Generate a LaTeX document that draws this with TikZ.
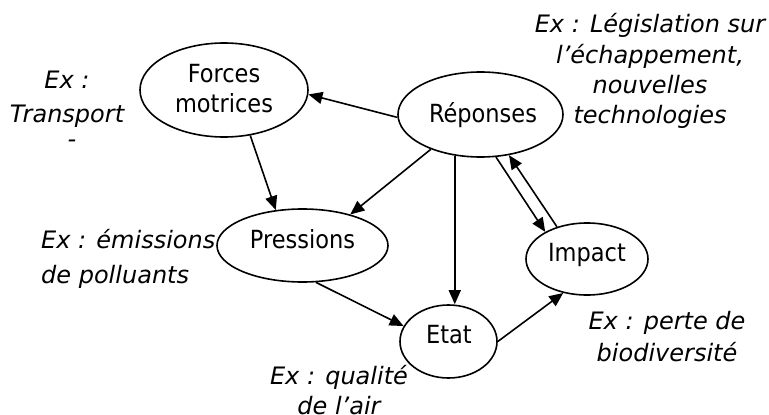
\documentclass[tikz,border=0pt]{standalone}
\usepackage{fontspec}
\newfontfamily\ellfont{DejaVu Sans Condensed}
\newfontfamily\exfont{DejaVu Sans}
\usetikzlibrary{shapes.geometric,arrows.meta}
\begin{document}
\begin{tikzpicture}[x=1pt,y=-1pt,
  ell/.style={draw, ellipse, line width=1.6pt, inner sep=0pt},
  elltext/.style={font=\ellfont\fontsize{25}{30}\selectfont, align=center, anchor=base, inner sep=0pt},
  extext/.style={font=\exfont\itshape\fontsize{24}{32}\selectfont, inner sep=0pt, anchor=base},
  arr/.style={line width=1.6pt, -{Triangle[length=14pt,width=12pt]}}]
\useasboundingbox (0,0) rectangle (769,415);
% ellipses
\node[ell, minimum width=168pt, minimum height=94pt] (F) at (224,90) {};
\node[ell, minimum width=165pt, minimum height=85pt] (R) at (480.5,114.5) {};
\node[ell, minimum width=171pt, minimum height=73pt] (P) at (302.5,245.5) {};
\node[ell, minimum width=97pt, minimum height=73pt] (E) at (448.5,341.5) {};
\node[ell, minimum width=122pt, minimum height=72pt] (I) at (587,259) {};
% ellipse texts (base = baseline of last line)
\node[elltext] (Ft) at (224,112) {Forces\\motrices};
\node[elltext] (Rt) at (483,122) {Réponses};
\node[elltext] (Pt) at (302.5,248) {Pressions};
\node[elltext] (Et) at (449,343) {Etat};
\node[elltext] (It) at (587,261) {Impact};
% example texts (base = baseline of last line)
\node[extext, align=center] (Fx) at (67,122) {Ex :\\[2pt]Transport};
\node[extext] (Fdash) at (72,147) {-};
\node[extext, align=center] (Rx) at (650,123) {Ex : Législation sur\\[-1pt]l’échappement,\\[-2pt]nouvelles\\[-2pt]technologies};
\node[extext, align=left, anchor=base west] (Px) at (41,283) {Ex : émissions\\[3pt]de polluants};
\node[extext, align=center] (Ex) at (339,414) {Ex : qualité\\[-2pt]de l’air};
\node[extext, align=center] (Ix) at (667,361) {Ex : perte de\\biodiversité};
% connectors
\draw[arr] (R.182) -- (F.357);
\draw[arr] (F.300) -- (P.127);
\draw[arr] (R.215) -- (P.33);
\draw[arr] (R.238) -- (R.238 |- E.north);
\draw[arr] (R.290) -- (I.147);
\draw[arr] (I.133) -- (R.305);
\draw[arr] (P.290) -- (E.161);
\draw[arr] (E.0) -- (I.235);
\end{tikzpicture}
\end{document}
